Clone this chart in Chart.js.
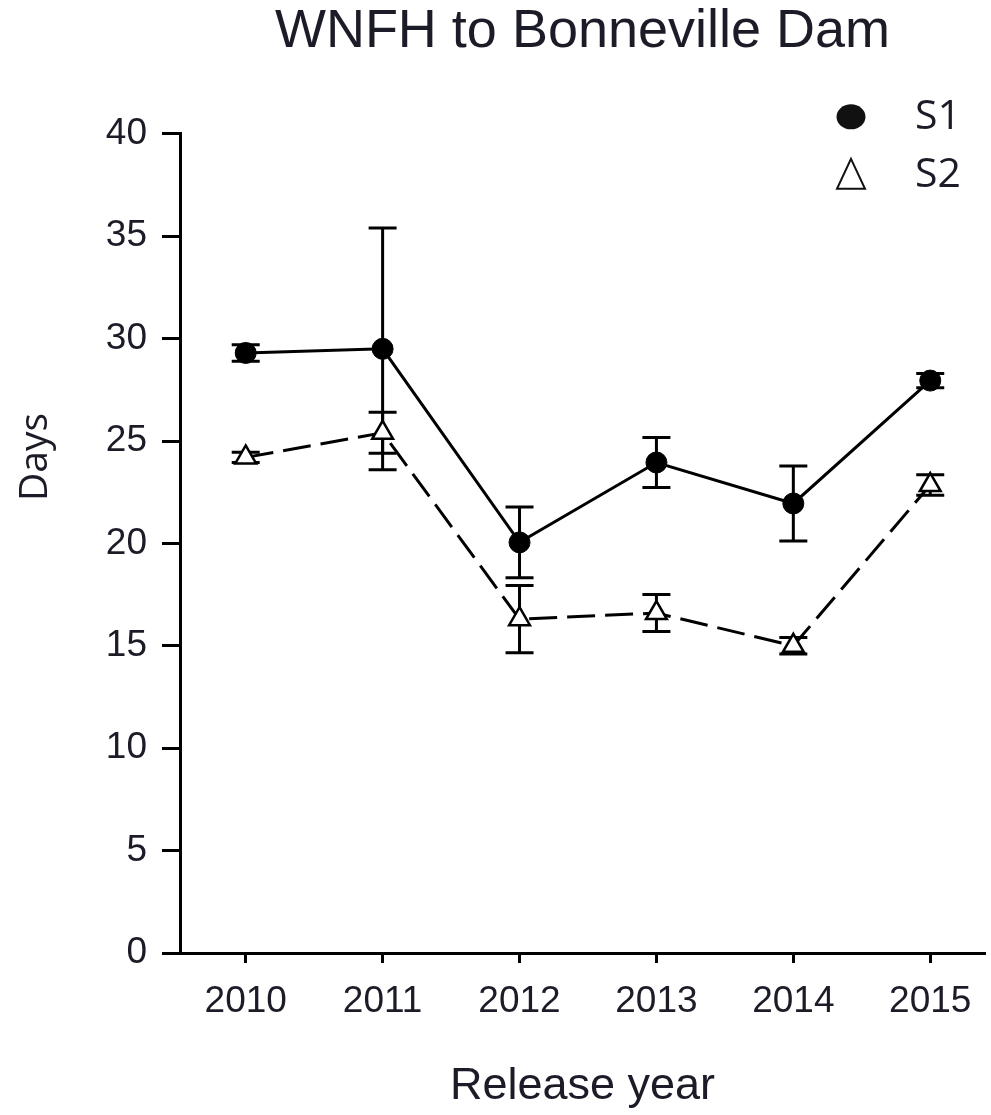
<!DOCTYPE html>
<html><head><meta charset="utf-8">
<script src="https://cdn.jsdelivr.net/npm/chart.js@4"></script>
<style>html,body{margin:0;padding:0;background:#fff;overflow:hidden}#wrap{width:991px;height:1115px;overflow:hidden}canvas{display:block}</style>
</head><body><div id="wrap"><canvas id="c" width="991" height="1115"></canvas></div>
<script>
const years = [2010, 2011, 2012, 2013, 2014, 2015];
const s1Days = [29.3, 29.5, 20.05, 23.95, 21.95, 27.95];
const s1Err = [0.4, 5.9, 1.73, 1.22, 1.83, 0.35];
const s2Days = [24.2, 25.4, 16.3, 16.6, 15.0, 22.85];
const s2Err = [0.25, 1.0, 1.64, 0.9, 0.4, 0.5];
const yTickValues = [0, 5, 10, 15, 20, 25, 30, 35, 40];
const seriesNames = ['S1', 'S2'];
const chartTitle = 'WNFH to Bonneville Dam';
const xTitle = 'Release year';
const yTitle = 'Days';

const textColor = '#1c1c28';

const errorBarPlugin = {
  id: 'errorBars',
  beforeDatasetsDraw(chart) {
    const {ctx, scales: {x, y}} = chart;
    ctx.save();
    ctx.strokeStyle = '#000';
    ctx.lineWidth = 3;
    chart.data.datasets.forEach((ds) => {
      const errs = ds.errorBars;
      ds.data.forEach((p, i) => {
        const px = x.getPixelForValue(p.x);
        const top = y.getPixelForValue(p.y + errs[i]);
        const bot = y.getPixelForValue(p.y - errs[i]);
        ctx.beginPath();
        ctx.moveTo(px, top); ctx.lineTo(px, bot);
        ctx.moveTo(px - 14, top); ctx.lineTo(px + 14, top);
        ctx.moveTo(px - 14, bot); ctx.lineTo(px + 14, bot);
        ctx.stroke();
      });
    });
    ctx.restore();
  }
};

const extrasPlugin = {
  id: 'extras',
  afterDraw(chart) {
    const {ctx, chartArea} = chart;
    ctx.save();
    ctx.fillStyle = textColor;
    ctx.font = '39px "Open Sans"';
    ctx.textAlign = 'center';
    ctx.textBaseline = 'middle';
    ctx.translate(36, 457);
    ctx.rotate(-Math.PI / 2);
    ctx.fillText(yTitle, 0, 0);
    ctx.restore();

    ctx.save();
    const mx = 851;
    const y1 = chartArea.top - 17;
    const y2 = chartArea.top + 41;
    ctx.fillStyle = '#111';
    ctx.beginPath();
    ctx.ellipse(mx, y1, 14.5, 12.5, 0, 0, Math.PI * 2);
    ctx.fill();
    ctx.strokeStyle = '#111';
    ctx.lineWidth = 2;
    ctx.fillStyle = '#fff';
    ctx.beginPath();
    ctx.moveTo(mx, y2 - 16);
    ctx.lineTo(mx + 14, y2 + 14);
    ctx.lineTo(mx - 14, y2 + 14);
    ctx.closePath();
    ctx.fill();
    ctx.stroke();
    ctx.fillStyle = textColor;
    ctx.font = '41px "Open Sans"';
    ctx.textAlign = 'left';
    ctx.textBaseline = 'middle';
    ctx.fillText(seriesNames[0], mx + 64, y1 + 1);
    ctx.fillText(seriesNames[1], mx + 64, y2 + 1);
    ctx.restore();
  }
};

new Chart(document.getElementById('c'), {
  type: 'line',
  data: {
    datasets: [
      {
        label: seriesNames[0],
        data: years.map((yr, i) => ({x: yr, y: s1Days[i]})),
        errorBars: s1Err,
        borderColor: '#000',
        borderWidth: 3,
        pointStyle: 'circle',
        pointRadius: 10.5,
        pointBackgroundColor: '#000',
        pointBorderColor: '#000',
        pointBorderWidth: 1,
        tension: 0,
        clip: false
      },
      {
        label: seriesNames[1],
        data: years.map((yr, i) => ({x: yr, y: s2Days[i]})),
        errorBars: s2Err,
        borderColor: '#000',
        borderWidth: 3,
        borderDash: [28, 10],
        pointStyle: 'triangle',
        pointRadius: 12,
        pointBackgroundColor: '#fff',
        pointBorderColor: '#000',
        pointBorderWidth: 2.5,
        tension: 0,
        clip: false
      }
    ]
  },
  options: {
    responsive: false,
    devicePixelRatio: 1,
    animation: false,
    layout: {autoPadding: false, padding: {left: 0, right: 6, top: 0, bottom: 0}},
    plugins: {
      legend: {display: false},
      tooltip: {enabled: false},
      title: {
        display: true,
        text: chartTitle,
        fullSize: false,
        color: textColor,
        font: {family: '"Liberation Sans", Arial, sans-serif', size: 54, weight: 'normal', lineHeight: 1.2},
        padding: {top: 0, bottom: 69}
      }
    },
    scales: {
      x: {
        type: 'linear',
        min: 2009.52,
        max: 2015.4,
        afterBuildTicks: (s) => { s.ticks = years.map(v => ({value: v})); },
        afterFit: (s) => { s.height = 162; s.paddingLeft = 0; s.paddingRight = 0; },
        border: {display: true, color: '#000', width: 3},
        grid: {drawOnChartArea: false, drawTicks: true, tickLength: 10, tickColor: '#000', tickWidth: 3},
        ticks: {
          color: textColor,
          padding: 0,
          autoSkip: false,
          maxRotation: 0,
          font: {family: '"Liberation Sans", Arial, sans-serif', size: 37, lineHeight: 2.1},
          callback: (v) => String(v)
        },
        title: {
          display: true,
          text: xTitle,
          color: textColor,
          font: {family: '"Liberation Sans", Arial, sans-serif', size: 45, lineHeight: 1.2},
          padding: {top: 0, bottom: 1}
        }
      },
      y: {
        type: 'linear',
        min: 0,
        max: 40,
        afterBuildTicks: (s) => { s.ticks = yTickValues.map(v => ({value: v})); },
        afterFit: (s) => { s.width = 180; },
        border: {display: true, color: '#000', width: 3},
        grid: {drawOnChartArea: false, drawTicks: true, tickLength: 18, tickColor: '#000', tickWidth: 3},
        ticks: {
          color: textColor,
          padding: 15,
          font: {family: '"Liberation Sans", Arial, sans-serif', size: 37, lineHeight: 1},
          callback: (v) => String(v)
        },
        title: {display: false}
      }
    }
  },
  plugins: [errorBarPlugin, extrasPlugin]
});
</script>
</body></html>
